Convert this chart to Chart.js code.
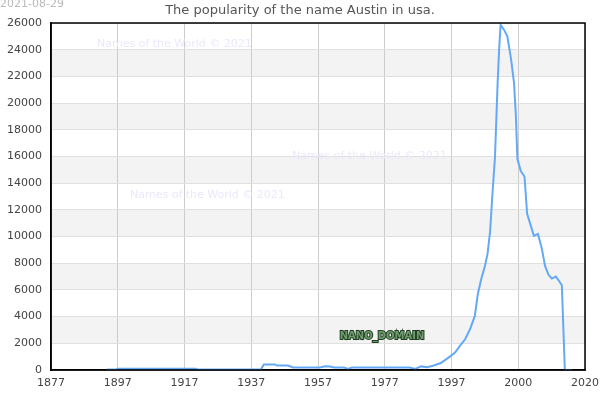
<!DOCTYPE html>
<html>
<head>
<meta charset="utf-8">
<script src="https://cdn.jsdelivr.net/npm/chart.js@4"></script>
<style>
  html, body { margin: 0; padding: 0; background: #fff; }
  #wrap { width: 600px; height: 400px; }
</style>
</head>
<body>
<div id="wrap"><canvas id="nameChart" width="600" height="400"></canvas></div>
<script>
// values (x in axis years, y in births)
var years = [1892.0, 1894.4, 1894.8, 1915.8, 1916.4, 1933.2, 1934.0, 1937.0, 1937.5, 1940.5,
  1941.8, 1949.0, 1950.4, 1951.7, 1952.8, 1955.5, 1956.5, 1957.6, 1973.1, 1974.5,
  1976.1, 1977.7, 1979.3, 1981.4, 1983.8, 1985.2, 1986.5, 1987.9, 1989.2, 1990.5,
  1991.3, 1992.2, 1993.2, 1993.9, 1994.6, 1995.1, 1995.9, 1996.6, 1997.0, 1997.4,
  1998.3, 1999.2, 2000.2, 2001.0, 2001.5, 2001.9, 2002.8, 2003.8, 2004.5, 2005.5,
  2006.3, 2007.4, 2008.4, 2009.3, 2010.2, 2011.1, 2012.2, 2013.1, 2013.8, 2014.6, 2016.5];
var births = [30, 30, 90, 90, 30, 30, 420, 420, 330, 330,
  190, 190, 280, 260, 190, 180, 80, 190, 190, 80,
  270, 200, 320, 520, 1000, 1300, 1800, 2300, 3050, 4050,
  5700, 6800, 7800, 8700, 10400, 12700, 16000, 21500, 24000, 25850,
  25500, 25000, 23300, 21500, 19000, 15800, 14900, 14500, 11700, 10800,
  10050, 10200, 9150, 7800, 7150, 6850, 7000, 6650, 6350, 0, 0];
var xTickLabels = ['1877', '1897', '1917', '1937', '1957', '1977', '1997', '2000', '2020'];
var xMin = 1877, xMax = 2020;
var yMax = 26000, yStep = 2000;

var points = [];
for (var i in years) {
  points.push({x: years[i], y: births[i]});
}

var decorations = {
  id: 'decorations',
  beforeDraw: function(chart) {
    var ctx = chart.ctx, a = chart.chartArea, ys = chart.scales.y;
    ctx.save();
    ctx.fillStyle = '#fff';
    ctx.fillRect(0, 0, chart.width, chart.height);
    ctx.fillStyle = '#f3f3f3';
    for (var v = yStep; v < yMax; v += yStep * 2) {
      var t = ys.getPixelForValue(v + yStep), b = ys.getPixelForValue(v);
      ctx.fillRect(a.left, t, a.right - a.left, b - t);
    }
    ctx.restore();
  },
  beforeDatasetsDraw: function(chart) {
    var ctx = chart.ctx;
    ctx.save();
    ctx.font = '11px "DejaVu Sans"';
    ctx.fillStyle = '#e9e9fb';
    ctx.textBaseline = 'middle';
    ctx.fillText('Names of the World \u00a9 2021', 97, 44);
    ctx.fillText('Names of the World \u00a9 2021', 292, 156);
    ctx.fillText('Names of the World \u00a9 2021', 130, 195);
    ctx.restore();
  },
  afterDraw: function(chart) {
    var ctx = chart.ctx, a = chart.chartArea;
    ctx.save();
    ctx.strokeStyle = '#000';
    ctx.lineWidth = 1.5;
    ctx.strokeRect(a.left, a.top, a.right - a.left, a.bottom - a.top);

    ctx.textBaseline = 'middle';
    ctx.font = '11px "DejaVu Sans"';
    ctx.fillStyle = '#bbbbbb';
    ctx.textAlign = 'left';
    ctx.fillText('2021-08-29', 0, 4);

    ctx.font = '13px "DejaVu Sans"';
    ctx.fillStyle = '#555';
    ctx.textAlign = 'center';
    ctx.fillText('The popularity of the name Austin in usa.', 300, 11);

    ctx.font = 'bold 10px "DejaVu Sans"';
    ctx.lineWidth = 2;
    ctx.strokeStyle = '#1f3f1f';
    ctx.strokeText('NANO_DOMAIN', 382, 336);
    ctx.fillStyle = '#6f9a6f';
    ctx.fillText('NANO_DOMAIN', 382, 336);
    ctx.restore();
  }
};

var chartCanvas = document.getElementById('nameChart');

var lineChart = new Chart(chartCanvas, {
  type: 'line',
  data: {
    datasets: [{
      data: points,
      borderColor: '#64a9f6',
      backgroundColor: 'transparent',
      borderWidth: 2,
      pointRadius: 0,
      tension: 0,
      fill: false
    }]
  },
  options: {
    responsive: false,
    animation: false,
    devicePixelRatio: 1,
    layout: { padding: { top: 23, right: 15, left: 0, bottom: 0 } },
    plugins: { legend: { display: false }, title: { display: false }, tooltip: { enabled: false } },
    scales: {
      x: {
        type: 'linear',
        min: xMin,
        max: xMax,
        afterBuildTicks: function(scale) {
          scale.ticks = xTickLabels.map(function(l, i) {
            return { value: xMin + i * (xMax - xMin) / (xTickLabels.length - 1) };
          });
        },
        afterFit: function(scale) {
          scale.height = 30;
          scale.paddingLeft = 0;
          scale.paddingRight = 0;
        },
        ticks: {
          autoSkip: false,
          maxRotation: 0,
          padding: 7,
          color: '#444',
          font: { family: 'DejaVu Sans', size: 11 },
          callback: function(value, index) { return xTickLabels[index]; }
        },
        grid: { color: '#cccccc', drawTicks: false },
        border: { color: '#000', width: 1.5 }
      },
      y: {
        min: 0,
        max: yMax,
        afterFit: function(scale) { scale.width = 51; },
        ticks: {
          stepSize: yStep,
          padding: 9,
          color: '#444',
          font: { family: 'DejaVu Sans', size: 11 },
          callback: function(value) { return String(value); }
        },
        grid: { color: '#e0e0e0', drawTicks: false },
        border: { color: '#000', width: 1.5 }
      }
    }
  },
  plugins: [decorations]
});
</script>
</body>
</html>
